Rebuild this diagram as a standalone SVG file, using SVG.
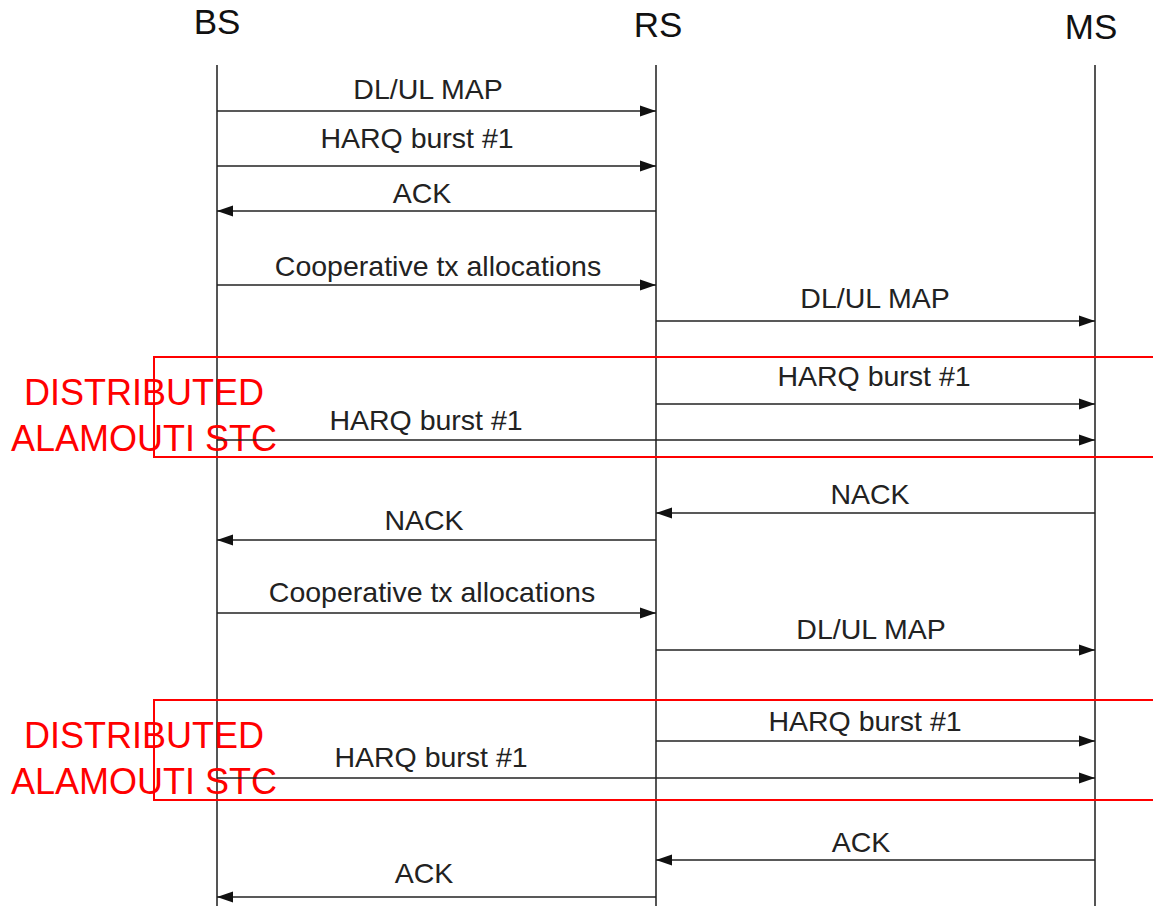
<svg xmlns="http://www.w3.org/2000/svg" width="1153" height="906" viewBox="0 0 1153 906">
<style>
.life{stroke:#555;stroke-width:2;fill:none}
.msg{stroke:#222;stroke-width:1.6;fill:none;marker-end:url(#ah)}
.hdr{font-family:"Liberation Sans",Arial,sans-serif;font-size:35px;fill:#111;text-anchor:middle}
.lbl{font-family:"Liberation Sans",Arial,sans-serif;font-size:28.5px;fill:#222;text-anchor:middle}
.red{font-family:"Liberation Sans",Arial,sans-serif;font-size:36px;fill:#f00;text-anchor:middle}
.box{stroke:#f00;stroke-width:2;fill:none}
</style>
<defs>
<marker id="ah" markerWidth="16" markerHeight="12" refX="16" refY="6" orient="auto" markerUnits="userSpaceOnUse">
<path d="M0,0.5 L16,6 L0,11.5 Z" fill="#111"/>
</marker>
</defs>
<rect width="1153" height="906" fill="#fff"/>
<g id="BS"><text class="hdr" x="217" y="34">BS</text><line class="life" x1="217" y1="65" x2="217" y2="906"/></g>
<g id="RS"><text class="hdr" x="658" y="37">RS</text><line class="life" x1="656" y1="65" x2="656" y2="906"/></g>
<g id="MS"><text class="hdr" x="1091" y="39">MS</text><line class="life" x1="1095" y1="65" x2="1095" y2="906"/></g>
<g id="stc1">
<rect class="box" x="154" y="357" width="1010" height="100"/>
<text class="red" x="144" y="405">DISTRIBUTED</text>
<text class="red" x="144" y="451">ALAMOUTI STC</text>
</g>
<g id="stc2">
<rect class="box" x="154" y="700" width="1010" height="100"/>
<text class="red" x="144" y="748">DISTRIBUTED</text>
<text class="red" x="144" y="794">ALAMOUTI STC</text>
</g>
<g id="connectors">
<line class="msg" x1="217" y1="111" x2="656" y2="111"/>
<line class="msg" x1="217" y1="166" x2="656" y2="166"/>
<line class="msg" x1="656" y1="211" x2="217" y2="211"/>
<line class="msg" x1="217" y1="285" x2="656" y2="285"/>
<line class="msg" x1="656" y1="321" x2="1095" y2="321"/>
<line class="msg" x1="656" y1="404" x2="1095" y2="404"/>
<line class="msg" x1="217" y1="440" x2="1095" y2="440"/>
<line class="msg" x1="1095" y1="513" x2="656" y2="513"/>
<line class="msg" x1="656" y1="540" x2="217" y2="540"/>
<line class="msg" x1="217" y1="613" x2="656" y2="613"/>
<line class="msg" x1="656" y1="650" x2="1095" y2="650"/>
<line class="msg" x1="656" y1="741" x2="1095" y2="741"/>
<line class="msg" x1="217" y1="778" x2="1095" y2="778"/>
<line class="msg" x1="1095" y1="860" x2="656" y2="860"/>
<line class="msg" x1="656" y1="897" x2="217" y2="897"/>
</g>
<g id="labels">
<text class="lbl" x="428" y="99">DL/UL MAP</text>
<text class="lbl" x="417" y="148">HARQ burst #1</text>
<text class="lbl" x="422" y="203">ACK</text>
<text class="lbl" x="438" y="276">Cooperative tx allocations</text>
<text class="lbl" x="875" y="308">DL/UL MAP</text>
<text class="lbl" x="874" y="386">HARQ burst #1</text>
<text class="lbl" x="426" y="430">HARQ burst #1</text>
<text class="lbl" x="870" y="504">NACK</text>
<text class="lbl" x="424" y="530">NACK</text>
<text class="lbl" x="432" y="602">Cooperative tx allocations</text>
<text class="lbl" x="871" y="639">DL/UL MAP</text>
<text class="lbl" x="865" y="731">HARQ burst #1</text>
<text class="lbl" x="431" y="767">HARQ burst #1</text>
<text class="lbl" x="861" y="852">ACK</text>
<text class="lbl" x="424" y="883">ACK</text>
</g>
</svg>
